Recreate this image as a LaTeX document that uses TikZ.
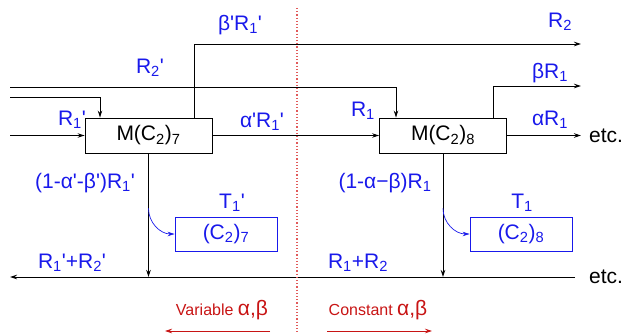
\documentclass[tikz,border=0pt]{standalone}
\usepackage{fontspec}
\setmainfont{Liberation Sans}
\usetikzlibrary{arrows.meta,positioning}
\definecolor{flowblue}{RGB}{25,25,235}
\definecolor{zonered}{RGB}{200,20,20}
\definecolor{splitred}{RGB}{225,90,90}
\newcommand{\lo}[1]{\textsubscript{#1}}
\newcommand{\pr}{\textquotesingle}
\tikzset{
  >={Stealth[length=7pt,width=4.5pt]},
  mixer/.style={draw,line width=0.9pt,minimum width=127pt,minimum height=35pt,inner sep=0pt,
    font=\fontsize{21}{24}\selectfont},
  column/.style={draw=flowblue,line width=0.9pt,minimum width=102pt,minimum height=34pt,inner sep=0pt,
    text=flowblue,font=\fontsize{21}{24}\selectfont},
  flow/.style={text=flowblue,inner sep=0pt,font=\fontsize{21}{24}\selectfont},
  etcnode/.style={inner sep=0pt,font=\fontsize{21}{24}\selectfont},
  zone/.style={text=zonered,inner sep=0pt,font=\fontsize{16}{18}\selectfont},
}

\begin{document}
\begin{tikzpicture}[x=1pt,y=-1pt,line width=0.9pt]
  \useasboundingbox (0,0) rectangle (629,334);
  % stages
  \node[mixer]  (mix7) at (148.5,135.5) {M(C\lo{2})\lo{7}};
  \node[mixer]  (mix8) at (443,135.5)   {M(C\lo{2})\lo{8}};
  \node[column] (col7) at (226,234)     {(C\lo{2})\lo{7}};
  \node[column] (col8) at (521,234)     {(C\lo{2})\lo{8}};
  % free ends
  \coordinate (inR2)  at (10,87);
  \coordinate (inR1)  at (10,97);
  \coordinate (inM)   at (10,135.5);
  \coordinate (outR2) at (581,44);
  \coordinate (outB)  at (581,86);
  \coordinate (outA)  at (581,135.5);
  \coordinate (backE) at (575,277);
  \coordinate (backW) at (10,277);
  \coordinate (splitT) at (297,8);
  \coordinate (splitB) at (297,334);
  \coordinate (varE) at (270,331);
  \coordinate (varW) at (165,331);
  \coordinate (conW) at (327,331);
  \coordinate (conE) at (432,331);
  % streams
  \draw[->] (inR1) -| ([xshift=-48.5pt]mix7.north);
  \draw[->] (inM) -- (mix7.west);
  \draw[->] (inR2) -| ([xshift=-47pt]mix8.north);
  \draw[->] ([xshift=45.5pt]mix7.north) |- (outR2);
  \draw[->] (mix7.east) -- (mix8.west);
  \draw[->] ([xshift=50pt]mix8.north) |- (outB);
  \draw[->] (mix8.east) -- (outA);
  \draw[->] (backE) -- (backW);
  \draw[->] (mix7.south) -- (mix7.south |- backE);
  \draw[->] (mix8.south) -- (mix8.south |- backE);
  \draw[->,flowblue,line width=0.7pt] ([yshift=-55pt]mix7.south) to[out=-90,in=180] (col7.west);
  \draw[->,flowblue,line width=0.7pt] ([yshift=-55pt]mix8.south) to[out=-90,in=180] (col8.west);
  % split between variable and constant zones
  \draw[splitred,dotted,line width=1.2pt] (splitT) -- (splitB);
  \draw[->,zonered,line width=0.7pt] (varE) -- (varW);
  \draw[->,zonered,line width=0.7pt] (conW) -- (conE);
  % labels
  \node[flow] (lbR2p)  at (150,68)  {R\lo{2}\pr};
  \node[flow] (lbR1p)  at (72,120)  {R\lo{1}\pr};
  \node[flow] (lbbRp)  at (240,25)  {β\pr R\lo{1}\pr};
  \node[flow] (lbaRp)  at (262,122) {α\pr R\lo{1}\pr};
  \node[flow] (lbR2)   at (560,22)  {R\lo{2}};
  \node[flow] (lbR1)   at (363,111) {R\lo{1}};
  \node[flow] (lbbR)   at (550,73)  {βR\lo{1}};
  \node[flow] (lbaR)   at (550,120) {αR\lo{1}};
  \node[flow] (lbrest7) at (85,183)  {(1-α\pr-β\pr)R\lo{1}\pr};
  \node[flow] (lbrest8) at (385,183) {(1-α−β)R\lo{1}};
  \node[flow] (lbT1p)  at (232,203) {T\lo{1}\pr};
  \node[flow] (lbT1)   at (522,203) {T\lo{1}};
  \node[flow] (lbback7) at (72,263) {R\lo{1}\pr+R\lo{2}\pr};
  \node[flow] (lbback8) at (358,263) {R\lo{1}+R\lo{2}};
  \node[etcnode] (etcA) at (606,136) {etc.};
  \node[etcnode] (etcB) at (606,277) {etc.};
  \node[zone] (lbvar) at (222,310) {Variable {\fontsize{21}{24}\selectfont α,β}};
  \node[zone] (lbcon) at (378,310) {Constant {\fontsize{21}{24}\selectfont α,β}};
\end{tikzpicture}
\end{document}
